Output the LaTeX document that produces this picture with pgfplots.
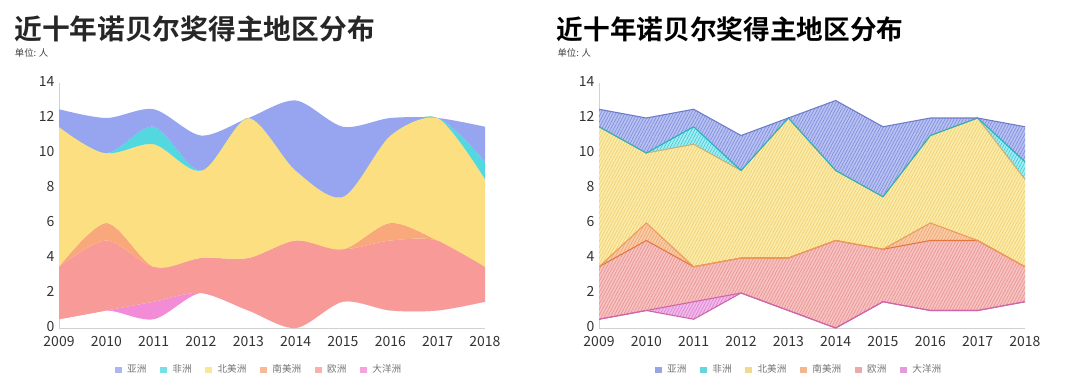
\documentclass[border=0pt]{standalone}
\usepackage{fontspec}
\setmainfont{Noto Sans CJK SC}[BoldFont={Noto Sans CJK SC Bold}]
\usepackage{pgfplots}
\pgfplotsset{compat=1.18}
\usepackage{pgfplotstable}
\usepgfplotslibrary{fillbetween}
\usetikzlibrary{patterns.meta}

% left (smooth) colours
\definecolor{cAs}{HTML}{97A4EF}
\definecolor{cAf}{HTML}{52D8DE}
\definecolor{cNA}{HTML}{FBDF80}
\definecolor{cSA}{HTML}{F9A87C}
\definecolor{cEU}{HTML}{F89B98}
\definecolor{cOC}{HTML}{F28CD6}
% right (sketch) colours: fill, hatch, line
\definecolor{fAs}{HTML}{B8C1F2}\definecolor{hAs}{HTML}{7F8EDC}\definecolor{lAs}{HTML}{6E7CC8}
\definecolor{fAf}{HTML}{A4EEF2}\definecolor{hAf}{HTML}{3FCAD8}\definecolor{lAf}{HTML}{2AAFC0}
\definecolor{fNA}{HTML}{FCECAA}\definecolor{hNA}{HTML}{EFCF72}\definecolor{lNA}{HTML}{C9B27A}
\definecolor{fSA}{HTML}{F9CDA8}\definecolor{hSA}{HTML}{F0A472}\definecolor{lSA}{HTML}{EE9A5A}
\definecolor{fEU}{HTML}{F8C2C0}\definecolor{hEU}{HTML}{E69494}\definecolor{lEU}{HTML}{E2783E}
\definecolor{fOC}{HTML}{F2BAEA}\definecolor{hOC}{HTML}{DC82D0}\definecolor{lOC}{HTML}{D064A8}

% cumulative stack boundaries (bottom of everything = b0)
\pgfplotstableread{
year b0  b1  b2  b3  b4   b5   b6
2009 0.5 0.5 3.5 3.5 11.5 11.5 12.5
2010 1.0 1.0 5.0 6.0 10.0 10.0 12.0
2011 0.5 1.5 3.5 3.5 10.5 11.5 12.5
2012 2.0 2.0 4.0 4.0 9.0  9.0  11.0
2013 1.0 1.0 4.0 4.0 12.0 12.0 12.0
2014 0.0 0.0 5.0 5.0 9.0  9.0  13.0
2015 1.5 1.5 4.5 4.5 7.5  7.5  11.5
2016 1.0 1.0 5.0 6.0 11.0 11.0 12.0
2017 1.0 1.0 5.0 5.0 12.0 12.0 12.0
2018 1.5 1.5 3.5 3.5 8.5  9.5  11.5
}\bounds

\pgfplotsset{
  common/.style={
    scale only axis, width=319.5pt, height=183.75pt,
    xmin=2009, xmax=2018, ymin=0, ymax=14,
    axis lines=left, axis line style={-, draw=black!18, line width=0.6pt},
    major tick length=0pt,
    xtick={2009,...,2018}, ytick={0,2,...,14},
    /pgf/number format/1000 sep={},
    /pgf/number format/assume math mode=true,
    tick label style={font=\fontsize{10.5}{12}\selectfont, text=black!80},
    xticklabel style={yshift=-2.5pt},
    yticklabel style={yshift=1pt},
    legend columns=6,
    legend style={draw=none, fill=none, font=\fontsize{7.2}{9}\selectfont, text=black!55,
      at={(0.47,-0.171)}, anchor=center,
      /tikz/every odd column/.append style={column sep=2pt},
      /tikz/every even column/.append style={column sep=8pt}},
    legend image code/.code={\fill[##1, draw=none] (0pt,-2.2pt) rectangle (5.5pt,2.2pt);},
  },
  hatch/.style={pattern={Lines[angle=62,distance=2pt,line width=0.5pt]}, pattern color=#1, draw=none, forget plot},
}

\begin{document}
\begin{tikzpicture}
% titles
\node[anchor=west, inner sep=0pt, font=\bfseries\fontsize{20.8}{24}\selectfont, text=black!85] at (10.5pt,263pt) {近十年诺贝尔奖得主地区分布};
\node[anchor=west, inner sep=0pt, font=\fontsize{7}{8}\selectfont, text=black!75] at (11pt,245pt) {单位: 人};
\node[anchor=west, inner sep=0pt, font=\bfseries\fontsize{20}{24}\selectfont, text=black] at (417.5pt,263pt) {近十年诺贝尔奖得主地区分布};
\node[anchor=west, inner sep=0pt, font=\fontsize{7}{8}\selectfont, text=black!75] at (418pt,245pt) {单位: 人};

% ---------- left: smooth stacked areas ----------
\begin{axis}[common, at={(44.25pt,39pt)}, anchor=south west]
\addplot[draw=none, smooth, name path=L0, forget plot] table[x=year,y=b0]{\bounds};
\addplot[draw=none, smooth, name path=L1, forget plot] table[x=year,y=b1]{\bounds};
\addplot[draw=none, smooth, name path=L2, forget plot] table[x=year,y=b2]{\bounds};
\addplot[draw=none, smooth, name path=L3, forget plot] table[x=year,y=b3]{\bounds};
\addplot[draw=none, smooth, name path=L4, forget plot] table[x=year,y=b4]{\bounds};
\addplot[draw=none, smooth, name path=L5, forget plot] table[x=year,y=b5]{\bounds};
\addplot[draw=none, smooth, name path=L6, forget plot] table[x=year,y=b6]{\bounds};
\addplot[fill=cOC, draw=none, forget plot] fill between[of=L0 and L1];
\addplot[fill=cEU, draw=none, forget plot] fill between[of=L1 and L2];
\addplot[fill=cSA, draw=none, forget plot] fill between[of=L2 and L3];
\addplot[fill=cNA, draw=none, forget plot] fill between[of=L3 and L4];
\addplot[fill=cAf, draw=none, forget plot] fill between[of=L4 and L5];
\addplot[fill=cAs, draw=none, forget plot] fill between[of=L5 and L6];
\addlegendimage{fill=cAs!80}\addlegendentry{亚洲}
\addlegendimage{fill=cAf!80}\addlegendentry{非洲}
\addlegendimage{fill=cNA!80}\addlegendentry{北美洲}
\addlegendimage{fill=cSA!80}\addlegendentry{南美洲}
\addlegendimage{fill=cEU!80}\addlegendentry{欧洲}
\addlegendimage{fill=cOC!80}\addlegendentry{大洋洲}
\end{axis}

% ---------- right: sketchy hatched areas ----------
\begin{axis}[common, at={(449.25pt,39pt)}, anchor=south west]
\addplot[draw=none, name path=R0, forget plot] table[x=year,y=b0]{\bounds};
\addplot[draw=none, name path=R1, forget plot] table[x=year,y=b1]{\bounds};
\addplot[draw=none, name path=R2, forget plot] table[x=year,y=b2]{\bounds};
\addplot[draw=none, name path=R3, forget plot] table[x=year,y=b3]{\bounds};
\addplot[draw=none, name path=R4, forget plot] table[x=year,y=b4]{\bounds};
\addplot[draw=none, name path=R5, forget plot] table[x=year,y=b5]{\bounds};
\addplot[draw=none, name path=R6, forget plot] table[x=year,y=b6]{\bounds};
\addplot[fill=fOC, draw=none, forget plot] fill between[of=R0 and R1];
\addplot[fill=fEU, draw=none, forget plot] fill between[of=R1 and R2];
\addplot[fill=fSA, draw=none, forget plot] fill between[of=R2 and R3];
\addplot[fill=fNA, draw=none, forget plot] fill between[of=R3 and R4];
\addplot[fill=fAf, draw=none, forget plot] fill between[of=R4 and R5];
\addplot[fill=fAs, draw=none, forget plot] fill between[of=R5 and R6];
\addplot[hatch=hOC] fill between[of=R0 and R1];
\addplot[hatch=hEU] fill between[of=R1 and R2];
\addplot[hatch=hSA] fill between[of=R2 and R3];
\addplot[hatch=hNA] fill between[of=R3 and R4];
\addplot[hatch=hAf] fill between[of=R4 and R5];
\addplot[hatch=hAs] fill between[of=R5 and R6];
\addplot[lOC, line width=0.8pt, forget plot] table[x=year,y=b0]{\bounds};
\addplot[lOC, line width=0.8pt, forget plot] table[x=year,y=b1]{\bounds};
\addplot[lEU, line width=0.8pt, forget plot] table[x=year,y=b2]{\bounds};
\addplot[lSA, line width=0.8pt, forget plot] table[x=year,y=b3]{\bounds};
\addplot[lNA, line width=0.8pt, forget plot] table[x=year,y=b4]{\bounds};
\addplot[lAf, line width=0.8pt, forget plot] table[x=year,y=b5]{\bounds};
\addplot[lAs, line width=0.8pt, forget plot] table[x=year,y=b6]{\bounds};
\addlegendimage{fill=hAs!80}\addlegendentry{亚洲}
\addlegendimage{fill=hAf!80}\addlegendentry{非洲}
\addlegendimage{fill=hNA!80}\addlegendentry{北美洲}
\addlegendimage{fill=hSA!80}\addlegendentry{南美洲}
\addlegendimage{fill=hEU!80}\addlegendentry{欧洲}
\addlegendimage{fill=hOC!80}\addlegendentry{大洋洲}
\end{axis}
\pgfresetboundingbox
\path[use as bounding box] (0,0) rectangle (810pt,285pt);
\end{tikzpicture}
\end{document}
